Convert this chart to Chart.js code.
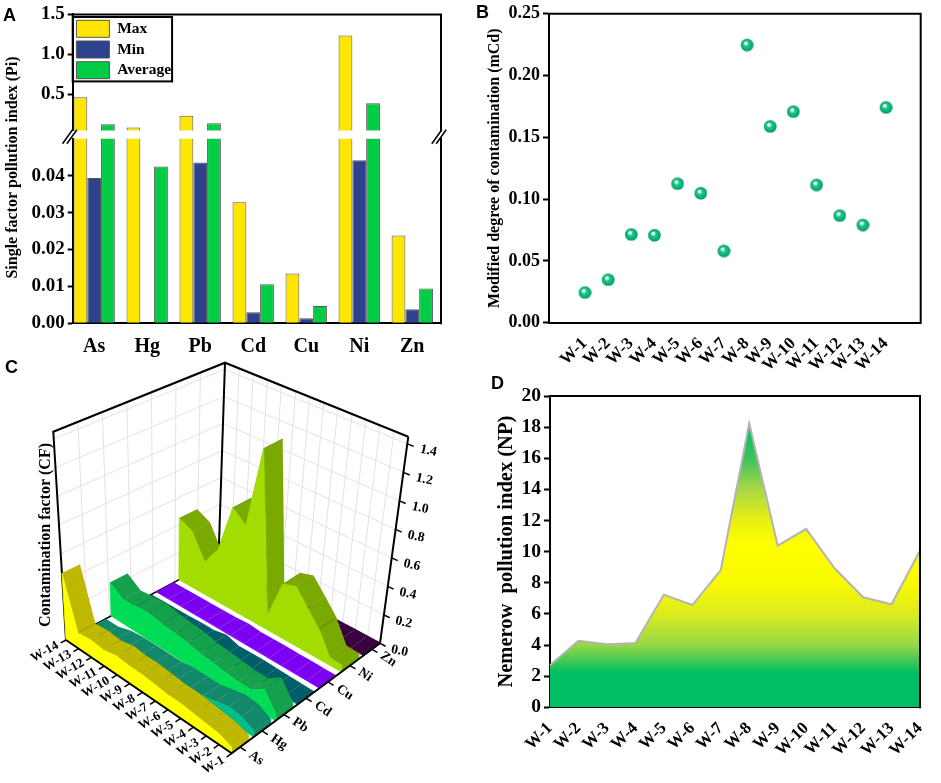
<!DOCTYPE html>
<html>
<head>
<meta charset="utf-8">
<title>Heavy metal pollution indices</title>
<script src="https://cdn.jsdelivr.net/npm/chart.js@4.4.1/dist/chart.umd.min.js"></script>
<style>
  body { margin: 0; background: #fff; }
  #page { position: relative; width: 941px; height: 783px; overflow: hidden; background: #fff; }
  canvas { position: absolute; }
  .tag { position: absolute; font: bold 18px "Liberation Sans", Arial, sans-serif; line-height: 1; }
</style>
</head>
<body>
<div id="page">
  <canvas id="aLow" width="450" height="360" style="left:0;top:0"></canvas>
  <canvas id="aHigh" width="450" height="145" style="left:0;top:0"></canvas>
  <canvas id="bChart" width="511" height="380" style="left:430px;top:0"></canvas>
  <canvas id="cChart" width="440" height="443" style="left:0;top:340px"></canvas>
  <canvas id="dChart" width="501" height="413" style="left:440px;top:370px"></canvas>
  <div class="tag" style="left:3px;top:6px">A</div>
  <div class="tag" style="left:476px;top:3px">B</div>
  <div class="tag" style="left:5px;top:358px">C</div>
  <div class="tag" style="left:491px;top:374px">D</div>
</div>
<script>
// ---- data ----
const metals = ["As", "Hg", "Pb", "Cd", "Cu", "Ni", "Zn"];
const sites = ["W-1", "W-2", "W-3", "W-4", "W-5", "W-6", "W-7", "W-8", "W-9", "W-10", "W-11", "W-12", "W-13", "W-14"];

// A: single factor pollution index
const piMax = [0.465, 0.09, 0.236, 0.0328, 0.0135, 1.236, 0.0238];
const piMin = [0.0394, 0, 0.0436, 0.003, 0.0014, 0.0442, 0.0038];
const piAvg = [0.13, 0.0425, 0.142, 0.0106, 0.0047, 0.39, 0.0094];
const piLowTicks = [0, 0.01, 0.02, 0.03, 0.04];
const piHighTicks = [0.5, 1.0, 1.5];
const PI_BREAK = 0.05;

// B: modified degree of contamination
const mcd = [0.0246, 0.035, 0.0716, 0.071, 0.1127, 0.105, 0.0583, 0.225, 0.159, 0.171, 0.1117, 0.0869, 0.0793, 0.1744];

// C: contamination factor per site (W-1 .. W-14)
const cfAs = [0.039, 0.07, 0.08, 0.09, 0.10, 0.10, 0.11, 0.12, 0.12, 0.13, 0.11, 0.12, 0.11, 0.465];
const cfHg = [0.04, 0.08, 0.09, 0.07, 0.05, 0.05, 0.05, 0.04, 0.04, 0.04, 0.04, 0.03, 0, 0];
const cfPb = [0.044, 0.16, 0.10, 0.10, 0.11, 0.12, 0.13, 0.15, 0.16, 0.17, 0.19, 0.18, 0.17, 0.236];
const cfCd = [0.004, 0.006, 0.008, 0.009, 0.012, 0.010, 0.007, 0.033, 0.015, 0.014, 0.009, 0.008, 0.006, 0.003];
const cfCu = [0.002, 0.003, 0.004, 0.004, 0.005, 0.005, 0.003, 0.0135, 0.006, 0.006, 0.004, 0.004, 0.003, 0.0014];
const cfNi = [0.044, 0.05, 0.20, 0.30, 0.40, 0.37, 0.10, 1.236, 0.64, 0.72, 0.37, 0.23, 0.40, 0.45];
const cfZn = [0.004, 0.006, 0.008, 0.008, 0.010, 0.009, 0.007, 0.024, 0.012, 0.013, 0.009, 0.008, 0.007, 0.0038];
const cfTicks = [0, 0.2, 0.4, 0.6, 0.8, 1.0, 1.2, 1.4];

// D: Nemerow pollution index
const np = [2.7, 4.28, 4.05, 4.13, 7.24, 6.57, 8.82, 18.25, 10.39, 11.46, 8.93, 7.07, 6.62, 10.07];
const npTicks = [0, 2, 4, 6, 8, 10, 12, 14, 16, 18, 20];

// ---- styles ----
const SERIF = '"Liberation Serif", "Times New Roman", serif';
Chart.defaults.font.family = SERIF;
Chart.defaults.font.weight = "bold";
Chart.defaults.color = "#000";
Chart.defaults.animation = false;
Chart.defaults.responsive = false;
Chart.defaults.events = [];
Chart.defaults.plugins.legend.display = false;
Chart.defaults.plugins.tooltip.enabled = false;

const barColors = { max: "#FFE600", min: "#2D418C", avg: "#00CC44" };
const axisBorder = { display: true, color: "#000", width: 2 };
const outTicks = { drawOnChartArea: false, tickLength: 5, tickWidth: 2, tickColor: "#000" };

// draws the missing sides of the plot box
const frame = (sides) => ({
  id: "frame",
  afterDraw(chart) {
    const { ctx, chartArea: a } = chart;
    ctx.save();
    ctx.strokeStyle = "#000";
    ctx.lineWidth = 2;
    ctx.lineCap = "square";
    ctx.beginPath();
    if (sides.includes("t")) { ctx.moveTo(a.left, a.top); ctx.lineTo(a.right, a.top); }
    if (sides.includes("r")) { ctx.moveTo(a.right, a.top); ctx.lineTo(a.right, a.bottom); }
    ctx.stroke();
    ctx.restore();
  },
});

// ---- panel A ----
const piSeries = [
  { label: "Max", vals: piMax, color: barColors.max },
  { label: "Min", vals: piMin, color: barColors.min },
  { label: "Average", vals: piAvg, color: barColors.avg },
];
const metalX = {
  type: "linear",
  offset: false,
  min: 0.595,
  max: 7.542,
  afterBuildTicks: (s) => { s.ticks = metals.map((m, i) => ({ value: i + 1 })); },
};
const barSet = (s, keep) => ({
  label: s.label,
  data: s.vals.map((v, i) => ({ x: i + 1, y: keep(v) ? v : null })),
  backgroundColor: s.color,
  borderColor: "#555",
  borderWidth: 1,
  categoryPercentage: 0.78,
  barPercentage: 1,
});

const aTitle = {
  id: "aTitle",
  afterDraw(chart) {
    const ctx = chart.ctx;
    ctx.save();
    ctx.translate(12.5, (11.7 + chart.chartArea.bottom) / 2);
    ctx.rotate(-Math.PI / 2);
    ctx.font = "bold 16px " + SERIF;
    ctx.textAlign = "center";
    ctx.textBaseline = "middle";
    ctx.fillStyle = "#000";
    ctx.fillText("Single factor pollution index (Pi)", 0, 0);
    ctx.restore();
  },
};

new Chart(document.getElementById("aLow"), {
  type: "bar",
  data: { datasets: piSeries.map((s) => barSet(s, () => true)) },
  options: {
    layout: { padding: { top: 138.8, right: 9, left: 0, bottom: 0 } },
    scales: {
      x: {
        ...metalX,
        afterFit: (s) => { s.height = 36.7; },
        ticks: { callback: (v) => metals[v - 1], font: { size: 20 }, padding: 4, autoSkip: false, maxRotation: 0 },
        grid: { display: false, offset: false },
        border: axisBorder,
      },
      y: {
        min: 0,
        max: PI_BREAK,
        afterBuildTicks: (s) => { s.ticks = piLowTicks.map((v) => ({ value: v })); },
        afterFit: (s) => { s.width = 72.7; },
        ticks: { callback: (v) => v.toFixed(2), font: { size: 19 }, padding: 3 },
        grid: outTicks,
        border: axisBorder,
      },
    },
  },
  plugins: [frame("r"), aTitle],
});

const legendBox = {
  id: "legendBox",
  afterDraw(chart) {
    const hb = chart.legend && chart.legend.legendHitBoxes;
    if (!hb || !hb.length) return;
    const ctx = chart.ctx;
    const right = Math.max(...hb.map((h) => h.left + h.width));
    const last = hb[hb.length - 1];
    const top = hb[0].top - 3.3;
    ctx.save();
    ctx.strokeStyle = "#000";
    ctx.lineWidth = 2;
    ctx.strokeRect(chart.chartArea.left, top, right + 1 - chart.chartArea.left, last.top + last.height + 2.7 - top);
    ctx.restore();
  },
};

const breakMarks = {
  id: "breakMarks",
  afterDraw(chart) {
    const { ctx, chartArea: a } = chart;
    const cy = 136.8;
    ctx.save();
    ctx.strokeStyle = "#000";
    ctx.lineWidth = 1.5;
    [a.left - 3, a.right - 2].forEach((cx) => {
      [-2.2, 2.2].forEach((dx) => {
        ctx.beginPath();
        ctx.moveTo(cx + dx - 5, cy + 7);
        ctx.lineTo(cx + dx + 5, cy - 7);
        ctx.stroke();
      });
    });
    ctx.restore();
  },
};

new Chart(document.getElementById("aHigh"), {
  type: "bar",
  data: { datasets: piSeries.map((s) => barSet(s, (v) => v > PI_BREAK)) },
  options: {
    layout: { padding: { top: 11.7, right: 9, left: 0, bottom: 11.1 } },
    plugins: {
      legend: {
        display: true,
        position: "chartArea",
        align: "start",
        title: { display: true, text: " ", font: { size: 1 }, padding: 7.7 },
        labels: { boxWidth: 33, boxHeight: 17, padding: 3.7, color: "#000", font: { size: 15.5, weight: "bold" } },
      },
    },
    scales: {
      x: { ...metalX, display: false },
      y: {
        min: PI_BREAK,
        max: 1.5,
        afterBuildTicks: (s) => { s.ticks = piHighTicks.map((v) => ({ value: v })); },
        afterFit: (s) => { s.width = 72.7; },
        ticks: { callback: (v) => v.toFixed(1), font: { size: 19 }, padding: 3 },
        grid: outTicks,
        border: axisBorder,
      },
    },
  },
  plugins: [frame("tr"), legendBox, breakMarks],
});

// ---- panel B ----
function makeSphere(r) {
  const c = document.createElement("canvas");
  c.width = c.height = 2 * r + 2;
  const g = c.getContext("2d");
  const cx = r + 1, cy = r + 1;
  const grad = g.createRadialGradient(cx - r * 0.25, cy - r * 0.35, r * 0.05, cx, cy, r);
  grad.addColorStop(0, "#ffffff");
  grad.addColorStop(0.2, "#d8f7e8");
  grad.addColorStop(0.33, "#2ccb8a");
  grad.addColorStop(0.8, "#00b070");
  grad.addColorStop(1, "#008f5b");
  g.fillStyle = grad;
  g.beginPath();
  g.arc(cx, cy, r, 0, Math.PI * 2);
  g.fill();
  return c;
}

new Chart(document.getElementById("bChart"), {
  type: "scatter",
  data: {
    datasets: [{
      data: sites.map((s, i) => ({ x: i + 1, y: mcd[i] })),
      pointStyle: makeSphere(6.3),
      pointRadius: 7,
    }],
  },
  options: {
    layout: { padding: { top: 10.7, right: 20.3, left: 0, bottom: 0 } },
    scales: {
      x: {
        type: "linear",
        min: -0.54,
        max: 15.51,
        afterBuildTicks: (s) => { s.ticks = sites.map((w, i) => ({ value: i + 1 })); },
        afterFit: (s) => { s.height = 57.3; },
        ticks: { callback: (v) => sites[v - 1], minRotation: 45, maxRotation: 45, autoSkip: false, font: { size: 17 }, padding: 3 },
        grid: { display: false },
        border: axisBorder,
      },
      y: {
        min: 0,
        max: 0.25,
        afterFit: (s) => { s.width = 119; },
        ticks: { stepSize: 0.05, callback: (v) => v.toFixed(2), font: { size: 18 }, padding: 3 },
        title: { display: true, text: "Modified degree of contamination (mCd)", font: { size: 16 }, padding: { top: 55.4, bottom: 0 } },
        grid: { ...outTicks, tickLength: 6 },
        border: axisBorder,
      },
    },
  },
  plugins: [frame("tr")],
});

// ---- panel C (waterfall drawn through a perspective box) ----
const BOX = {
  f0: [231.7, 753.3], l0: [66, 640], r0: [380, 643.3], b0: [218.5, 558.5],
  f1: [240.8, 534.2], l1: [53.3, 431.7], r1: [408.3, 436.7], b1: [225, 362.7],
};
const C_WMAX = 1.45;
const C_PITCH = 0.148;
const C_DEPTH = 0.113;
const GRID = "#E2E2E2";
const ribbonColors = [
  { face: "#FFFF00", top: "#BEB900" },
  { face: "#00BE8C", top: "#12896A" },
  { face: "#00DC55", top: "#15A04B" },
  { face: "#006470", top: "#005E6A" },
  { face: "#8200FF", top: "#7C00F2" },
  { face: "#A2DC00", top: "#7AAA00" },
  { face: "#3C0046", top: "#3A0040" },
];
const cfVals = [cfAs, cfHg, cfPb, cfCd, cfCu, cfNi, cfZn];

function bilerp(f, l, r, b, u, v, k) {
  return (1 - u) * (1 - v) * f[k] + u * (1 - v) * l[k] + (1 - u) * v * r[k] + u * v * b[k];
}
function proj(u, v, val) {
  const w = val / C_WMAX;
  const p = [0, 1].map((k) => {
    const lo = bilerp(BOX.f0, BOX.l0, BOX.r0, BOX.b0, u, v, k);
    const hi = bilerp(BOX.f1, BOX.l1, BOX.r1, BOX.b1, u, v, k);
    return lo + (hi - lo) * w;
  });
  return { x: p[0], y: p[1] };
}
const siteU = (i) => i / (sites.length - 1);

const cSets = [];
function addPoly(pts, color, edge) {
  cSets.push({ data: pts, showLine: true, fill: "shape", backgroundColor: color, borderColor: edge || color, borderWidth: 0.7, pointRadius: 0 });
}
function addLine(pts, color, width) {
  cSets.push({ data: pts, showLine: true, fill: false, borderColor: color, borderWidth: width, pointRadius: 0 });
}

// back walls
for (let k = 1; k < 7; k++) addLine([proj(1, k / 7, 0), proj(1, k / 7, C_WMAX)], GRID, 1);
for (let i = 1; i < sites.length - 1; i++) addLine([proj(siteU(i), 1, 0), proj(siteU(i), 1, C_WMAX)], GRID, 1);
cfTicks.forEach((t) => { if (t > 0) addLine([proj(1, 0, t), proj(1, 1, t), proj(0, 1, t)], GRID, 1); });
addLine([proj(1, 0, 0), proj(1, 1, 0), proj(0, 1, 0)], "#000", 1.5);
addLine([proj(1, 0, 0), proj(1, 0, C_WMAX), proj(1, 1, C_WMAX), proj(0, 1, C_WMAX)], "#000", 2);
addLine([proj(1, 1, 0), proj(1, 1, C_WMAX)], "#000", 2);

// ribbons, back to front
for (let j = metals.length - 1; j >= 0; j--) {
  const v0 = j * C_PITCH, v1 = v0 + C_DEPTH, vals = cfVals[j], col = ribbonColors[j];
  for (let i = sites.length - 2; i >= 0; i--) {
    const ua = siteU(i), ub = siteU(i + 1);
    addPoly([proj(ua, v0, vals[i]), proj(ub, v0, vals[i + 1]), proj(ub, v1, vals[i + 1]), proj(ua, v1, vals[i])], col.top, "rgba(0,0,0,0.10)");
  }
  const face = [proj(0, v0, 0), proj(1, v0, 0)];
  for (let i = sites.length - 1; i >= 0; i--) face.push(proj(siteU(i), v0, vals[i]));
  addPoly(face, col.face);
  addPoly([proj(0, v0, 0), proj(0, v1, 0), proj(0, v1, vals[0]), proj(0, v0, vals[0])], col.top);
}

// front axes and ticks
addLine([proj(1, 0, 0), proj(0, 0, 0), proj(0, 1, 0)], "#000", 2);
addLine([proj(0, 1, 0), proj(0, 1, C_WMAX)], "#000", 2);
sites.forEach((s, i) => addLine([proj(siteU(i), 0, 0), proj(siteU(i), -0.035, 0)], "#000", 1.5));
metals.forEach((m, j) => {
  const vc = j * C_PITCH + C_DEPTH / 2;
  addLine([proj(0, vc, 0), proj(-0.035, vc, 0)], "#000", 1.5);
});
cfTicks.forEach((t) => addLine([proj(0, 1, t), proj(-0.035, 1, t)], "#000", 1.5));
cSets.reverse();

const cLabels = {
  id: "cLabels",
  afterDraw(chart) {
    const { ctx, scales: { x, y } } = chart;
    const put = (str, p, ang, align, size) => {
      ctx.save();
      ctx.translate(x.getPixelForValue(p.x), y.getPixelForValue(p.y));
      ctx.rotate(ang);
      ctx.font = "bold " + size + "px " + SERIF;
      ctx.textAlign = align;
      ctx.textBaseline = "middle";
      ctx.fillStyle = "#000";
      ctx.fillText(str, 0, 0);
      ctx.restore();
    };
    const wAng = -30 * Math.PI / 180;
    const mAng = Math.atan2(BOX.f0[1] - BOX.l0[1], BOX.f0[0] - BOX.l0[0]);
    sites.forEach((s, i) => put(s, proj(siteU(i), -0.055, 0), wAng, "right", 13));
    metals.forEach((m, j) => put(m, proj(-0.06, j * C_PITCH + C_DEPTH / 2, 0), mAng, "left", 13.5));
    cfTicks.forEach((t) => put(t.toFixed(1), proj(-0.07, 1, t), 12 * Math.PI / 180, "left", 13.5));
    put("Contamination factor (CF)", { x: 46, y: 535 }, -Math.PI / 2, "center", 16);
  },
};

new Chart(document.getElementById("cChart"), {
  type: "scatter",
  data: { datasets: cSets },
  options: {
    layout: { padding: 0 },
    scales: {
      x: { type: "linear", min: 0, max: 440, display: false },
      y: { type: "linear", min: 340, max: 783, reverse: true, display: false },
    },
  },
  plugins: [cLabels],
});

// ---- panel D ----
const npStops = [[0, "#00BE64"], [2.2, "#00BE64"], [4, "#96D746"], [6, "#DCEB1E"], [8, "#FAFA00"], [10.5, "#FFFF00"], [12, "#E8F010"], [14, "#AAD746"], [16, "#3CC35A"], [18.25, "#00BE64"]];
function npFill(context) {
  const chart = context.chart;
  if (!chart.chartArea) return "#00BE64";
  const ys = chart.scales.y;
  const top = npStops[npStops.length - 1][0];
  const g = chart.ctx.createLinearGradient(0, ys.getPixelForValue(0), 0, ys.getPixelForValue(top));
  npStops.forEach(([v, c]) => g.addColorStop(v / top, c));
  return g;
}

new Chart(document.getElementById("dChart"), {
  type: "line",
  data: {
    labels: sites,
    datasets: [{ data: np, borderColor: "#B4B4B4", borderWidth: 2, pointRadius: 0, tension: 0, fill: "origin", backgroundColor: npFill }],
  },
  options: {
    layout: { padding: { top: 26, right: 21, left: 0, bottom: 0 } },
    scales: {
      x: {
        offset: false,
        afterFit: (s) => { s.height = 75.7; },
        ticks: { minRotation: 45, maxRotation: 45, autoSkip: false, font: { size: 17 }, padding: 3 },
        grid: { display: false },
        border: axisBorder,
      },
      y: {
        min: 0,
        max: 20,
        afterBuildTicks: (s) => { s.ticks = npTicks.map((v) => ({ value: v })); },
        afterFit: (s) => { s.width = 110; },
        ticks: { font: { size: 19.5 }, padding: 3 },
        title: { display: true, text: "Nemerow  pollution index (NP)", font: { size: 20.5 }, padding: { top: 54.4, bottom: 0 } },
        grid: { ...outTicks, tickLength: 6 },
        border: axisBorder,
      },
    },
  },
  plugins: [frame("tr")],
});
</script>
</body>
</html>
